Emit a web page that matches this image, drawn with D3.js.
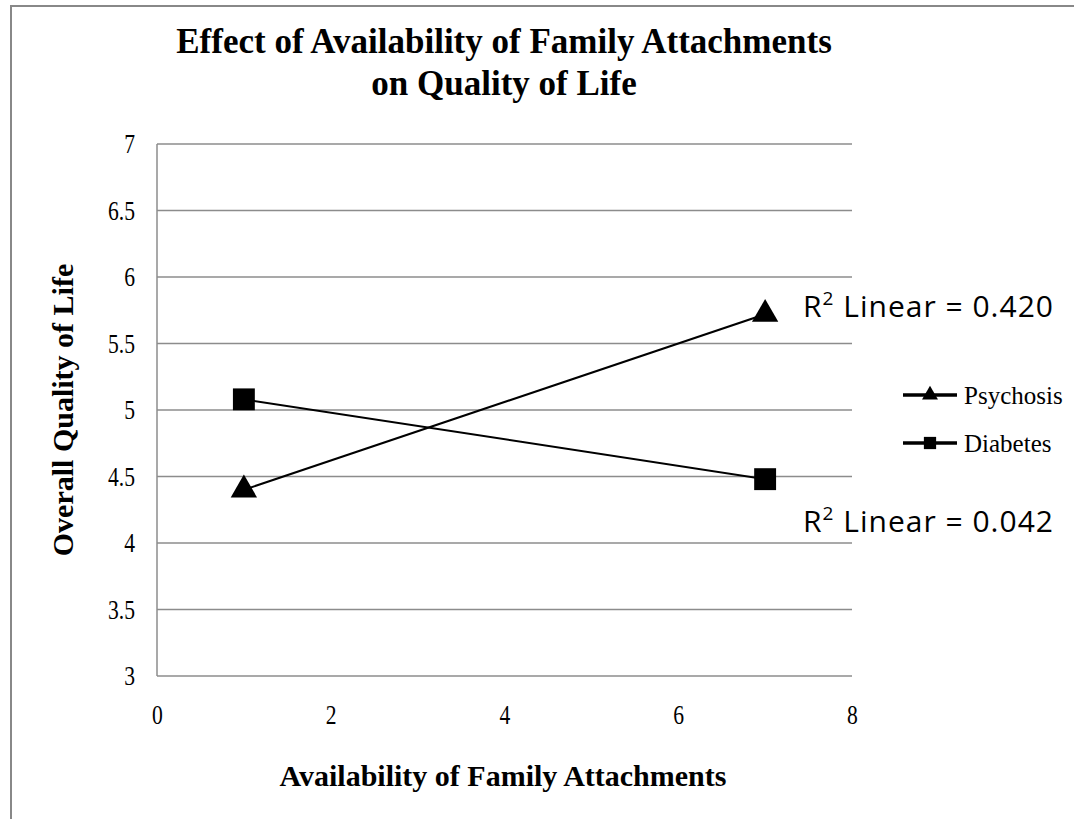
<!DOCTYPE html>
<html>
<head>
<meta charset="utf-8">
<script src="https://cdn.jsdelivr.net/npm/d3@7"></script>
<style>
  body { margin: 0; background: #fff; }
  svg { display: block; }
</style>
</head>
<body>
<svg id="chart" width="1074" height="819"></svg>
<script>
// data
const seriesNames = ['Psychosis', 'Diabetes'];
const xValues = [1, 7];
const psychosis = [4.4, 5.72];
const diabetes = [5.08, 4.48];
const r2Labels = ['0.420', '0.042'];
const xTicks = [0, 2, 4, 6, 8];
const yTicks = [3, 3.5, 4, 4.5, 5, 5.5, 6, 6.5, 7];

const serif = '"Liberation Serif", "Times New Roman", serif';

const svg = d3.select('#chart');
const margin = { top: 144, right: 222, bottom: 143, left: 157 };
const width = 1074 - margin.left - margin.right;
const height = 819 - margin.top - margin.bottom;

// outer border (only top and left show in the picture)
svg.append('path')
    .attr('d', 'M11,819 L11,6 L1074,6')
    .attr('fill', 'none')
    .attr('stroke', '#888')
    .attr('stroke-width', 2);

const g = svg.append('g')
    .attr('transform', `translate(${margin.left},${margin.top})`);

const x = d3.scaleLinear().domain([0, 8]).range([0, width]);
const y = d3.scaleLinear().domain([3, 7]).range([height, 0]);

// gridlines
g.selectAll('.grid')
    .data(yTicks)
  .enter().append('line')
    .attr('class', 'grid')
    .attr('x1', 0)
    .attr('x2', width)
    .attr('y1', d => y(d))
    .attr('y2', d => y(d))
    .attr('stroke', '#8c8c8c')
    .attr('stroke-width', 1.5);

g.append('line')
    .attr('x1', 0).attr('x2', 0)
    .attr('y1', 0).attr('y2', height)
    .attr('stroke', '#8c8c8c')
    .attr('stroke-width', 1.5);

const xAxis = g.append('g')
    .attr('transform', `translate(0,${height + 29})`)
    .call(d3.axisBottom(x).tickValues(xTicks).tickSize(0).tickPadding(0));
xAxis.select('.domain').remove();

const yAxis = g.append('g')
    .attr('transform', 'translate(-22,0)')
    .call(d3.axisLeft(y).tickValues(yTicks).tickSize(0).tickPadding(0).tickFormat(d3.format('')));
yAxis.select('.domain').remove();

// the reference renders its Times labels narrow and tall
[xAxis, yAxis].forEach((a) => {
  a.attr('font-family', serif).attr('font-size', 27);
  a.selectAll('text')
      .attr('fill', '#000')
      .attr('transform', 'scale(0.8,1)');
});

// series
const sets = [
  { name: seriesNames[0], values: psychosis, shape: d3.symbolTriangle, size: 300 },
  { name: seriesNames[1], values: diabetes, shape: d3.symbolSquare, size: 480 },
];

const line = d3.line()
    .x(d => x(d[0]))
    .y(d => y(d[1]));

sets.forEach((s) => {
  const pts = xValues.map((v, i) => [v, s.values[i]]);
  g.append('path')
      .datum(pts)
      .attr('d', line)
      .attr('fill', 'none')
      .attr('stroke', '#000')
      .attr('stroke-width', 2);
  g.selectAll(null)
      .data(pts)
    .enter().append('path')
      .attr('d', d3.symbol().type(s.shape).size(s.size))
      .attr('transform', d => `translate(${x(d[0])},${y(d[1])})`)
      .attr('fill', '#000');
});

// R squared labels
const r2Pos = [[803, 317], [803, 532]];
r2Labels.forEach((v, i) => {
  const t = svg.append('text')
      .attr('x', r2Pos[i][0])
      .attr('y', r2Pos[i][1])
      .attr('font-family', '"Open Sans", sans-serif')
      .attr('font-size', 30)
      .attr('textLength', 250)
      .attr('fill', '#000');
  t.append('tspan').text('R');
  t.append('tspan').attr('dy', -12).attr('font-size', 19).text('2');
  t.append('tspan').attr('dy', 12).text(` Linear = ${v}`);
});

// legend
const legend = svg.append('g').attr('transform', 'translate(903,395)');
sets.forEach((s, i) => {
  const row = legend.append('g').attr('transform', `translate(0,${i * 48})`);
  row.append('line')
      .attr('x1', 0).attr('x2', 54)
      .attr('stroke', '#000')
      .attr('stroke-width', 3.5);
  row.append('path')
      .attr('d', d3.symbol().type(s.shape).size(i === 0 ? 110 : 150))
      .attr('transform', 'translate(27,0)')
      .attr('fill', '#000');
  row.append('text')
      .attr('x', 61)
      .attr('dy', '0.35em')
      .attr('font-family', serif)
      .attr('font-size', 25)
      .text(s.name);
});

// titles
const title = svg.append('text')
    .attr('text-anchor', 'middle')
    .attr('font-family', serif)
    .attr('font-weight', 'bold')
    .attr('font-size', 35);
title.append('tspan').attr('x', 504).attr('y', 53).text('Effect of Availability of Family Attachments');
title.append('tspan').attr('x', 504).attr('y', 95).text('on Quality of Life');

svg.append('text')
    .attr('x', 503)
    .attr('y', 786)
    .attr('text-anchor', 'middle')
    .attr('font-family', serif)
    .attr('font-weight', 'bold')
    .attr('font-size', 30)
    .text('Availability of Family Attachments');

svg.append('text')
    .attr('transform', 'translate(73,410) rotate(-90)')
    .attr('text-anchor', 'middle')
    .attr('font-family', serif)
    .attr('font-weight', 'bold')
    .attr('font-size', 30)
    .text('Overall Quality of Life');
</script>
</body>
</html>
